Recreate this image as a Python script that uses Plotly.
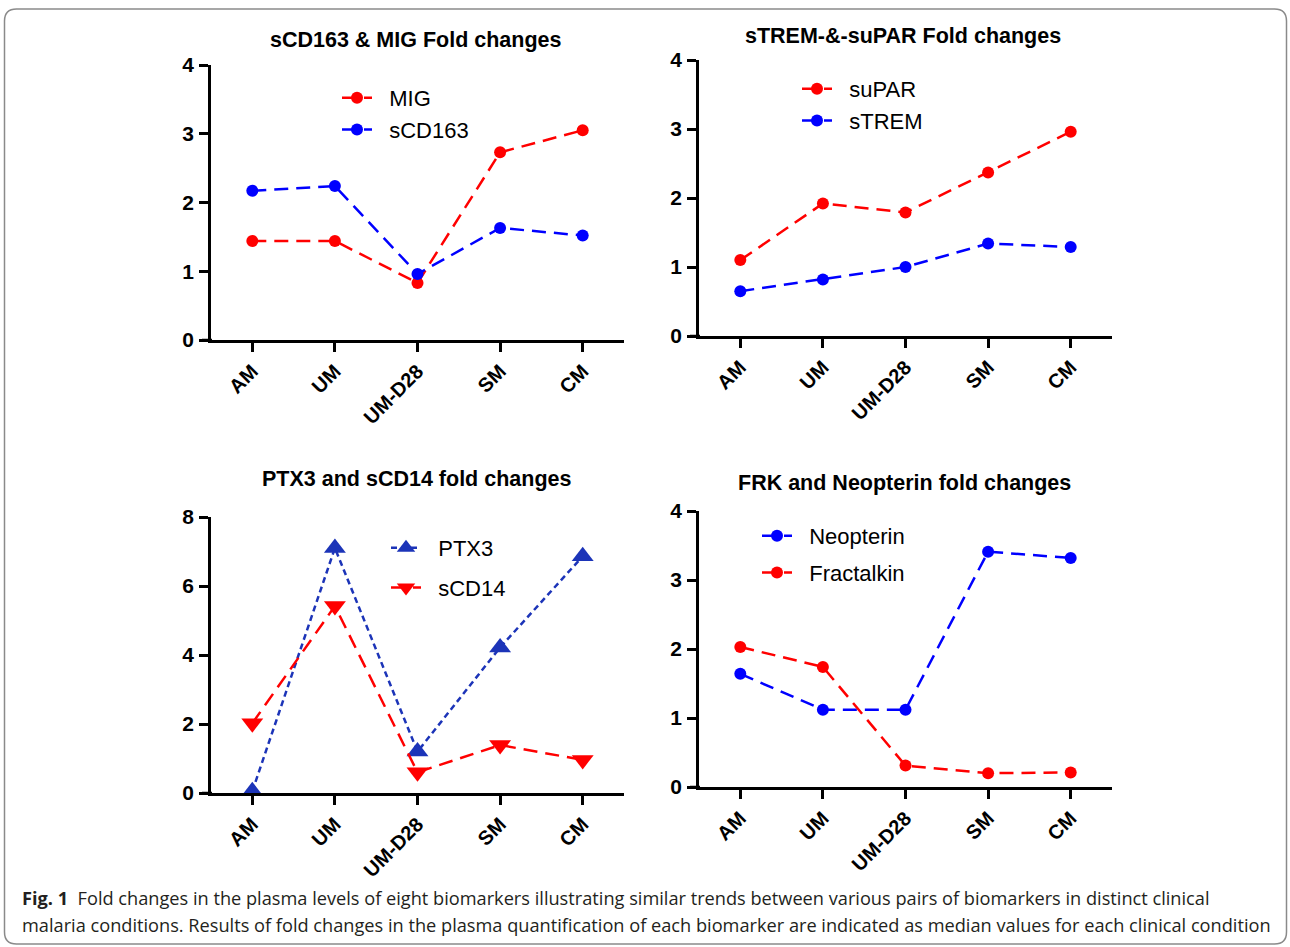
import plotly.graph_objects as go

W, H = 1290, 947

categories = ["AM", "UM", "UM-D28", "SM", "CM"]
xpos = [0, 1, 2, 3, 4]

mig = [1.44, 1.44, 0.83, 2.73, 3.05]
scd163 = [2.17, 2.24, 0.96, 1.63, 1.52]

supar = [1.10, 1.92, 1.79, 2.37, 2.96]
strem = [0.65, 0.82, 1.00, 1.34, 1.29]

ptx3 = [0.05, 7.1, 1.2, 4.22, 6.86]
scd14 = [2.02, 5.42, 0.6, 1.39, 0.96]

neopterin = [1.64, 1.12, 1.12, 3.41, 3.32]
fractalkin = [2.03, 1.74, 0.31, 0.20, 0.21]

titles = ["sCD163 & MIG Fold changes", "sTREM-&-suPAR Fold changes",
          "PTX3 and sCD14 fold changes", "FRK and Neopterin fold changes"]

caption1 = ("<b>Fig. 1</b>  Fold changes in the plasma levels of eight biomarkers illustrating "
            "similar trends between various pairs of biomarkers in distinct clinical")
caption2 = ("malaria conditions. Results of fold changes in the plasma quantification of each "
            "biomarker are indicated as median values for each clinical condition")

RED = "#FF0000"
BLUE = "#0000FF"
DKBLUE = "#1C34B8"
DASH = "14px,8px"
SDASH = "6px,4px"
PAD = "\u00a0\u00a0"

def px(x):
    return x / W

def py(y):
    return 1 - y / H

# panel geometry in pixels: (left, right, top, bottom)
panels = [
    (211, 624, 65, 340),
    (699, 1112, 60, 336),
    (211, 624, 517, 793),
    (699, 1112, 511, 787),
]
yranges = [[0, 4], [0, 4], [0, 8], [0, 4]]
ydticks = [1, 1, 2, 1]

fig = go.Figure()

def add(x, y, name, color, dash, symbol, size, idx, legend, group):
    axn = "" if idx == 0 else str(idx + 1)
    fig.add_trace(go.Scatter(
        x=x, y=y, name=PAD + name, mode="lines+markers",
        line=dict(color=color, width=2.5, dash=dash),
        marker=dict(color=color, size=size, symbol=symbol),
        xaxis="x" + axn, yaxis="y" + axn, legend=legend,
        legendgroup=group, cliponaxis=False,
    ))

add(xpos, mig, "MIG", RED, DASH, "circle", 12, 0, "legend", "a1")
add(xpos, scd163, "sCD163", BLUE, DASH, "circle", 12, 0, "legend", "a2")
add(xpos, supar, "suPAR", RED, DASH, "circle", 12, 1, "legend2", "b1")
add(xpos, strem, "sTREM", BLUE, DASH, "circle", 12, 1, "legend2", "b2")
add(xpos, ptx3, "PTX3", DKBLUE, SDASH, "triangle-up", 19, 2, "legend3", "c1")
add(xpos, scd14, "sCD14", RED, DASH, "triangle-down", 19, 2, "legend3", "c2")
add(xpos, neopterin, "Neopterin", BLUE, DASH, "circle", 12, 3, "legend4", "d1")
add(xpos, fractalkin, "Fractalkin", RED, DASH, "circle", 12, 3, "legend4", "d2")

ytickfont = dict(family="Liberation Sans, Arial", size=21, color="black", weight="bold")
xtickfont = dict(family="Liberation Sans, Arial", size=20, color="black", weight="bold")
layout = dict(
    width=W, height=H, autosize=False,
    margin=dict(l=0, r=0, t=0, b=0, pad=0, autoexpand=False),
    paper_bgcolor="white", plot_bgcolor="white",
    showlegend=True,
)

for i, (l, r, t, b) in enumerate(panels):
    axn = "" if i == 0 else str(i + 1)
    layout["xaxis" + axn] = dict(
        domain=[px(l), px(r)], range=[-0.5, 4.5], anchor="y" + axn,
        tickvals=xpos, ticktext=categories, tickangle=-45,
        ticks="outside", ticklen=9, tickwidth=2.5, tickcolor="black",
        showline=True, linewidth=2.5, linecolor="black", automargin=False,
        showgrid=False, zeroline=False, tickfont=xtickfont, fixedrange=True,
    )
    layout["yaxis" + axn] = dict(
        domain=[py(b), py(t)], range=yranges[i], dtick=ydticks[i], anchor="x" + axn,
        ticks="outside", ticklen=9, tickwidth=2.5, tickcolor="black",
        showline=True, linewidth=2.5, linecolor="black", automargin=False,
        showgrid=False, zeroline=False, tickfont=ytickfont, fixedrange=True,
        ticklabelstandoff=1,
    )

legfont = dict(family="Liberation Sans, Arial", size=22, color="black")
legpos = [(337, 77, 0), (797, 68, 0), (386, 527, 8), (757, 515, 5)]
for i, (lx, ty, gap) in enumerate(legpos):
    key = "legend" if i == 0 else "legend" + str(i + 1)
    layout[key] = dict(
        x=px(lx), y=py(ty), xanchor="left", yanchor="top",
        font=legfont, bgcolor="rgba(0,0,0,0)", borderwidth=0,
        itemwidth=30, traceorder="grouped", tracegroupgap=gap,
    )

fig.update_layout(**layout)

titlepos = [(416, 40), (903, 36), (417, 479), (904, 483)]
for (cx, cy), t in zip(titlepos, titles):
    fig.add_annotation(
        x=px(cx), y=py(cy), xref="paper", yref="paper", text=t, showarrow=False,
        xanchor="center", yanchor="middle",
        font=dict(family="Liberation Sans, Arial", size=21.5, color="black", weight="bold"),
    )

capfont = dict(family="Open Sans", size=18.2, color="#231f20")
fig.add_annotation(x=px(20), y=py(898), xref="paper", yref="paper", text=caption1,
                   showarrow=False, xanchor="left", yanchor="middle", font=capfont)
fig.add_annotation(x=px(20), y=py(925), xref="paper", yref="paper", text=caption2,
                   showarrow=False, xanchor="left", yanchor="middle", font=capfont)

# x-axis line extension to the left of the y axis (GraphPad style)
for i, (l, r, t, b) in enumerate(panels):
    fig.add_shape(type="line", xref="paper", yref="paper",
                  x0=px(l - 9), x1=px(l + 1), y0=py(b), y1=py(b),
                  line=dict(color="black", width=2.5))

# rounded frame
x0, x1, y0, y1 = px(4.5), px(1286.5), py(944), py(9)
rx, ry = px(12), 12 / H
path = (f"M{x0 + rx},{y1} L{x1 - rx},{y1} Q{x1},{y1} {x1},{y1 - ry} "
        f"L{x1},{y0 + ry} Q{x1},{y0} {x1 - rx},{y0} "
        f"L{x0 + rx},{y0} Q{x0},{y0} {x0},{y0 + ry} "
        f"L{x0},{y1 - ry} Q{x0},{y1} {x0 + rx},{y1} Z")
fig.add_shape(type="path", path=path, xref="paper", yref="paper",
              line=dict(color="#8a8a8a", width=1.5), layer="below")

fig.write_html("out.html", config={"displayModeBar": False},
               post_script="document.body.style.margin='0';document.body.style.overflow='hidden';")
